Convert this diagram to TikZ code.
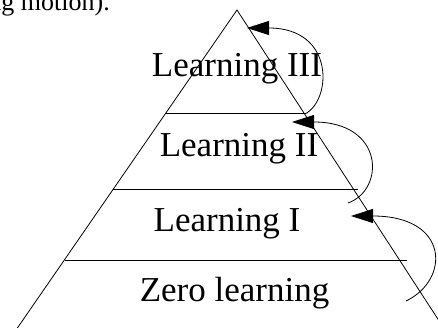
\documentclass[tikz,border=0pt]{standalone}
\usepackage{fontspec}
\setmainfont{Liberation Serif}
\usetikzlibrary{arrows.meta}
\begin{document}
\begin{tikzpicture}[x=1pt,y=-1pt,
  edge/.style={draw=black,line width=0.8pt},
  label/.style={anchor=base,inner sep=0pt,font=\fontsize{35}{40}\selectfont},
  loop/.style={draw=black,line width=0.8pt,-{Triangle[length=22pt,width=14pt]}}]
\useasboundingbox (0,0) rectangle (438,328);
% page text fragment
\node[anchor=base east,inner sep=0pt,font=\fontsize{26}{30}\selectfont] (frag) at (110,11) {ing motion).};
% pyramid
\coordinate (apex) at (237,10);
\coordinate (bl) at (16,330);
\coordinate (br) at (445,330);
\draw[edge] (bl) -- (apex) -- (br);
\coordinate (l1a) at (166,113); \coordinate (l1b) at (306,113);
\coordinate (l2a) at (113,189); \coordinate (l2b) at (358,189);
\coordinate (l3a) at (65,260);  \coordinate (l3b) at (407,260);
\draw[edge] (l1a) -- (l1b);
\draw[edge] (l2a) -- (l2b);
\draw[edge] (l3a) -- (l3b);
% labels
\node[label] (t3) at (237,77) {Learning III};
\node[label] (t2) at (239,157) {Learning II};
\node[label] (t1) at (227,232) {Learning I};
\node[label] (t0) at (234.5,301) {Zero learning};
% loops
\coordinate (s1) at (305,114); \coordinate (e1) at (247,28);
\coordinate (s2) at (348,203); \coordinate (e2) at (292,122);
\coordinate (s3) at (406,301); \coordinate (e3) at (351,216);
\draw[loop] (s1) .. controls (332,100) and (335,28) .. (e1);
\draw[loop] (s2) .. controls (385,190) and (385,122) .. (e2);
\draw[loop] (s3) .. controls (450,280) and (450,216) .. (e3);
\end{tikzpicture}
\end{document}
